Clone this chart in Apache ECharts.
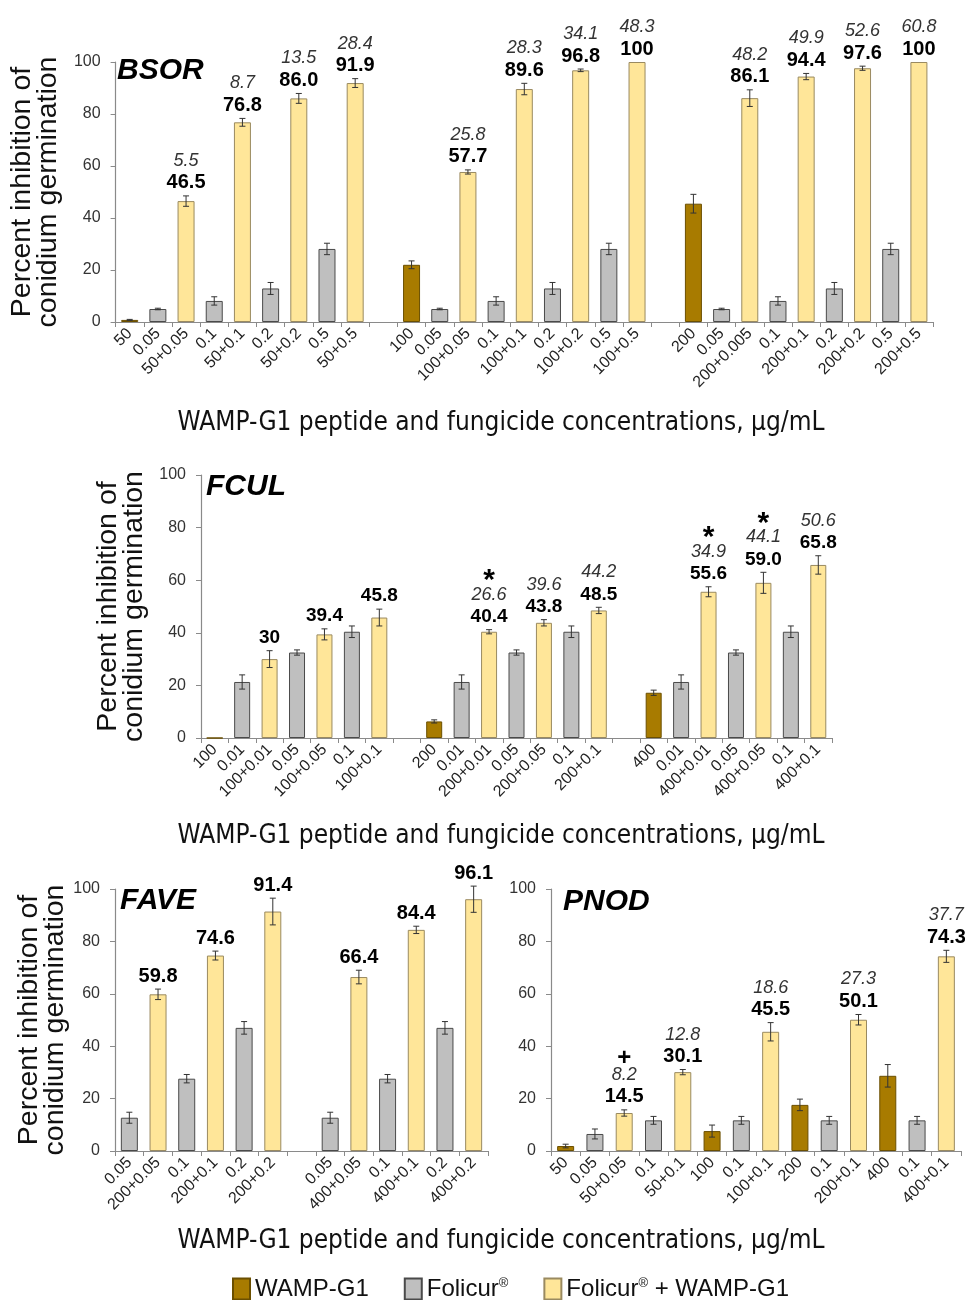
<!DOCTYPE html>
<html>
<head>
<meta charset="utf-8">
<script src="https://cdn.jsdelivr.net/npm/echarts@6/dist/echarts.min.js"></script>
<style>
  html, body { margin: 0; padding: 0; background: #fff; }
  #chart { width: 965px; height: 1300px; }
</style>
</head>
<body>
<div id="chart"></div>
<script>
// ---- BSOR ----
const bsorCats = ['50', '0.05', '50+0.05', '0.1', '50+0.1', '0.2', '50+0.2', '0.5', '50+0.5', '',
  '100', '0.05', '100+0.05', '0.1', '100+0.1', '0.2', '100+0.2', '0.5', '100+0.5', '',
  '200', '0.05', '200+0.005', '0.1', '200+0.1', '0.2', '200+0.2', '0.5', '200+0.5'];
const bsorMeans = ['0.8', '5', '46.5', '8.1', '76.8', '12.9', '86.0', '28.1', '91.9', null,
  '22.0', '5', '57.7', '8.1', '89.6', '12.9', '96.8', '28.1', '100', null,
  '45.5', '5', '86.1', '8.1', '94.4', '12.9', '97.6', '28.1', '100'];
const bsorErrs = [0.2, 0.3, 2.0, 1.6, 1.5, 2.3, 1.9, 2.2, 1.7, null,
  1.5, 0.3, 0.8, 1.6, 2.2, 2.3, 0.5, 2.2, 0, null,
  3.6, 0.3, 3.2, 1.6, 1.2, 2.3, 0.8, 2.2, 0];
const bsorSynergy = [null, null, '5.5', null, '8.7', null, '13.5', null, '28.4', null,
  null, null, '25.8', null, '28.3', null, '34.1', null, '48.3', null,
  null, null, '48.2', null, '49.9', null, '52.6', null, '60.8'];
const bsorMarks = [];

// ---- FCUL ----
const fculCats = ['100', '0.01', '100+0.01', '0.05', '100+0.05', '0.1', '100+0.1', '',
  '200', '0.01', '200+0.01', '0.05', '200+0.05', '0.1', '200+0.1', '',
  '400', '0.01', '400+0.01', '0.05', '400+0.05', '0.1', '400+0.1'];
const fculMeans = ['0', '21.3', '30', '32.5', '39.4', '40.4', '45.8', null,
  '6.3', '21.3', '40.4', '32.5', '43.8', '40.4', '48.5', null,
  '17.2', '21.3', '55.6', '32.5', '59.0', '40.4', '65.8'];
const fculErrs = [0, 2.7, 3.2, 1.0, 2.1, 2.2, 3.2, null,
  0.6, 2.7, 0.8, 1.0, 1.2, 2.2, 1.2, null,
  1.0, 2.7, 1.9, 1.0, 4.0, 2.2, 3.5];
const fculSynergy = [null, null, null, null, null, null, null, null,
  null, null, '26.6', null, '39.6', null, '44.2', null,
  null, null, '34.9', null, '44.1', null, '50.6'];
const fculMarks = [null, null, null, null, null, null, null, null,
  null, null, '*', null, null, null, null, null,
  null, null, '*', null, '*', null, null];

// ---- FAVE ----
const faveCats = ['0.05', '200+0.05', '0.1', '200+0.1', '0.2', '200+0.2', '',
  '0.05', '400+0.05', '0.1', '400+0.1', '0.2', '400+0.2'];
const faveMeans = ['12.7', '59.8', '27.6', '74.6', '47.0', '91.4', null,
  '12.7', '66.4', '27.6', '84.4', '47.0', '96.1'];
const faveErrs = [2.1, 2.0, 1.6, 1.7, 2.4, 5.1, null,
  2.1, 2.6, 1.6, 1.4, 2.4, 5.0];
const faveSynergy = [];
const faveMarks = [];

// ---- PNOD ----
const pnodCats = ['50', '0.05', '50+0.05', '0.1', '50+0.1', '100', '0.1', '100+0.1',
  '200', '0.1', '200+0.1', '400', '0.1', '400+0.1'];
const pnodMeans = ['1.9', '6.5', '14.5', '11.7', '30.1', '7.6', '11.7', '45.5',
  '17.6', '11.7', '50.1', '28.7', '11.7', '74.3'];
const pnodErrs = [0.7, 1.9, 1.2, 1.5, 1.0, 2.3, 1.5, 3.5, 2.2, 1.5, 2.0, 4.3, 1.5, 2.3];
const pnodSynergy = [null, null, '8.2', null, '12.8', null, null, '18.6',
  null, null, '27.3', null, null, '37.7'];
const pnodMarks = [null, null, '+', null, null, null, null, null,
  null, null, null, null, null, null];

const yTicks = { min: 0, max: 100, interval: 20 };
const seriesNames = ['WAMP-G1', 'Folicur®', 'Folicur® + WAMP-G1'];
const yTitle = 'Percent inhibition of\nconidium germination';
const xTitle = 'WAMP-G1 peptide and fungicide concentrations, μg/mL';

const ARIAL = '"Liberation Sans", Arial, sans-serif';
const NARROW = '"Liberation Sans Narrow", "DejaVu Sans Condensed", "Liberation Sans", sans-serif';

const styles = {
  wamp:    { color: '#A87B00', borderColor: '#6b4f00', borderWidth: 1 },
  folicur: { color: '#BFBFBF', borderColor: '#4a4a4a', borderWidth: 1 },
  combo:   { color: '#FFE699', borderColor: '#9a8a60', borderWidth: 1 }
};

// a label with '+' is a mixture, a bare 50-400 is the peptide alone, the rest is the fungicide
function kindOf(label) {
  if (label === '') return null;
  if (label.indexOf('+') >= 0) return 'combo';
  return Number(label) >= 50 ? 'wamp' : 'folicur';
}

const panels = [
  { cats: bsorCats, means: bsorMeans, errs: bsorErrs, syn: bsorSynergy, marks: bsorMarks,
    grid: { left: 108, right: 32, top: 62, height: 260 }, title: true, barWidth: 17, valueSize: 20 },
  { cats: fculCats, means: fculMeans, errs: fculErrs, syn: fculSynergy, marks: fculMarks,
    grid: { left: 201, right: 133, top: 475, height: 263 }, title: true, barWidth: 16, valueSize: 19 },
  { cats: faveCats, means: faveMeans, errs: faveErrs, syn: faveSynergy, marks: faveMarks,
    grid: { left: 115, right: 477, top: 889, height: 262 }, title: true, barWidth: 17, valueSize: 20 },
  { cats: pnodCats, means: pnodMeans, errs: pnodErrs, syn: pnodSynergy, marks: pnodMarks,
    grid: { left: 551, right: 4, top: 889, height: 262 }, title: false, barWidth: 17, valueSize: 20 }
];

const grids = [], xAxes = [], yAxes = [], series = [];

panels.forEach((p, gi) => {
  grids.push(Object.assign({ containLabel: false }, p.grid));
  xAxes.push({
    type: 'category', gridIndex: gi, data: p.cats,
    axisLine: { lineStyle: { color: '#8a8a8a', width: 1.2 } },
    axisTick: { show: true, length: 5, lineStyle: { color: '#8a8a8a' } },
    axisLabel: { interval: 0, rotate: 45, fontFamily: ARIAL, fontSize: 16, color: '#222', margin: 9 }
  });
  yAxes.push({
    type: 'value', gridIndex: gi, min: yTicks.min, max: yTicks.max, interval: yTicks.interval,
    splitLine: { show: false },
    axisLine: { show: true, lineStyle: { color: '#8a8a8a', width: 1.2 } },
    axisTick: { show: true, length: 5, lineStyle: { color: '#8a8a8a' } },
    axisLabel: { fontFamily: ARIAL, fontSize: 16, color: '#333', margin: 15 },
    name: p.title ? yTitle : '',
    nameLocation: 'middle', nameGap: 35,
    nameTextStyle: { fontFamily: ARIAL, fontSize: 28.5, color: '#111', lineHeight: 26 }
  });

  ['wamp', 'folicur', 'combo'].forEach((kind, ki) => {
    series.push({
      type: 'bar', name: seriesNames[ki], xAxisIndex: gi, yAxisIndex: gi,
      barWidth: p.barWidth, barGap: '-100%',
      itemStyle: styles[kind],
      emphasis: { disabled: true },
      data: p.cats.map((c, i) => kindOf(c) === kind ? Number(p.means[i]) : '-')
    });
  });

  // whiskers plus the printed values (mean in bold, synergy index in italic, significance mark)
  series.push({
    type: 'custom', xAxisIndex: gi, yAxisIndex: gi, z: 5, clip: false, silent: true,
    data: p.cats.map((c, i) => c === '' ? [i, 0] : [i, Number(p.means[i])]),
    renderItem: function (params, api) {
      const i = params.dataIndex;
      const c = p.cats[i];
      if (c === '') return null;
      const m = Number(p.means[i]);
      const e = p.errs[i] || 0;
      const children = [];
      const topPt = api.coord([i, m + e]);
      const x = topPt[0];
      if (e > 0) {
        const botPt = api.coord([i, m - e]);
        const lc = { stroke: '#333', lineWidth: 1 };
        children.push({ type: 'line', shape: { x1: x, y1: topPt[1], x2: x, y2: botPt[1] }, style: lc });
        children.push({ type: 'line', shape: { x1: x - 3, y1: topPt[1], x2: x + 3, y2: topPt[1] }, style: lc });
        children.push({ type: 'line', shape: { x1: x - 3, y1: botPt[1], x2: x + 3, y2: botPt[1] }, style: lc });
      }
      if (kindOf(c) === 'combo') {
        let y = topPt[1] - 13;
        children.push({ type: 'text', style: {
          text: p.means[i], x: x, y: y, align: 'center', verticalAlign: 'middle',
          fontFamily: ARIAL, fontWeight: 'bold', fontSize: p.valueSize, fill: '#000' } });
        y -= 22;
        if (p.syn[i]) {
          children.push({ type: 'text', style: {
            text: p.syn[i], x: x, y: y, align: 'center', verticalAlign: 'middle',
            fontFamily: ARIAL, fontStyle: 'italic', fontSize: 18, fill: '#333' } });
          y -= 18;
        }
        if (p.marks[i]) {
          children.push({ type: 'text', style: {
            text: p.marks[i], x: x, y: y + (p.marks[i] === '*' ? 4 : 2), align: 'center', verticalAlign: 'middle',
            fontFamily: ARIAL, fontWeight: 'bold', fontSize: p.marks[i] === '*' ? 30 : 24, fill: '#000' } });
        }
      }
      return { type: 'group', children: children };
    }
  });
});

const panelNames = [
  { text: 'BSOR', x: 117, y: 72 },
  { text: 'FCUL', x: 206, y: 488 },
  { text: 'FAVE', x: 120, y: 902 },
  { text: 'PNOD', x: 563, y: 903 }
];
const xTitleRows = [423, 836, 1241];

const graphic = [];
panelNames.forEach(n => graphic.push({
  type: 'text', left: n.x, top: n.y - 16,
  style: { text: n.text, fontFamily: ARIAL, fontWeight: 'bold', fontStyle: 'italic', fontSize: 30, fill: '#000' }
}));
xTitleRows.forEach(y => graphic.push({
  type: 'text', x: 501, y: y,
  style: { text: xTitle, align: 'center', verticalAlign: 'middle', fontFamily: NARROW, fontSize: 26, fill: '#111' }
}));

const chart = echarts.init(document.getElementById('chart'), null, { renderer: 'canvas' });
chart.setOption({
  animation: false,
  backgroundColor: '#fff',
  grid: grids, xAxis: xAxes, yAxis: yAxes, series: series,
  graphic: graphic,
  legend: {
    data: seriesNames, left: 232, top: 1277, padding: 0, itemWidth: 17, itemHeight: 21, itemGap: 35,
    icon: 'rect',
    formatter: name => name.replace(/®/g, '{r|®}'),
    textStyle: { fontFamily: ARIAL, fontSize: 24, color: '#111', lineHeight: 24,
      rich: { r: { fontFamily: ARIAL, fontSize: 13, color: '#111', lineHeight: 24, verticalAlign: 'top' } } }
  }
});
</script>
</body>
</html>
